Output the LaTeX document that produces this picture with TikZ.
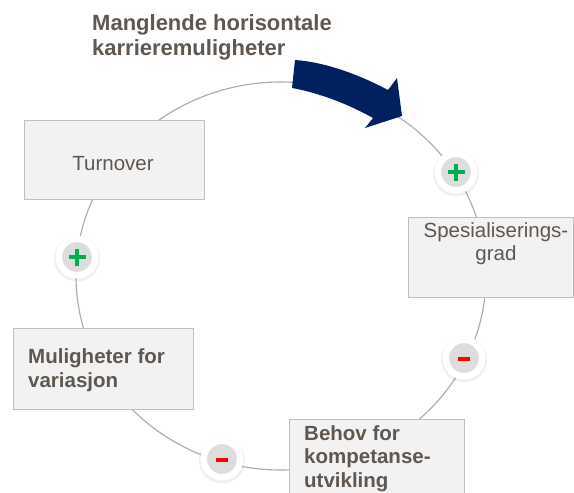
\documentclass[tikz,border=0pt]{standalone}
\usepackage{fontspec}
\setmainfont{Liberation Sans}
\definecolor{linegray}{RGB}{170,170,170}
\definecolor{boxborder}{RGB}{191,191,191}
\definecolor{boxfill}{RGB}{242,242,242}
\definecolor{txtcol}{RGB}{95,87,80}
\definecolor{navyarrow}{RGB}{0,32,96}
\definecolor{plusgreen}{RGB}{0,176,80}
\definecolor{minusred}{RGB}{255,0,0}
\definecolor{badgegray}{RGB}{221,221,221}
\begin{document}
\begin{tikzpicture}[x=1pt,y=-1pt,
  cycleline/.style={draw=linegray, line width=1.1pt},
  box/.style={draw=boxborder, fill=boxfill, line width=1.4pt, rectangle, inner sep=0pt, anchor=north west},
  txt/.style={text=txtcol, inner sep=0pt, font=\fontsize{20.5}{23.5}\selectfont},
  boldtxt/.style={txt, font=\fontsize{20.5}{23.5}\selectfont\bfseries},
  titletxt/.style={text=txtcol, inner sep=0pt, font=\fontsize{22}{25}\selectfont\bfseries},
  badge/.style={circle, fill=badgegray, draw=white, line width=6.5pt, minimum size=36.5pt, inner sep=0pt},
  badgeshadow/.style={fill=black, opacity=0.06},
  plussign/.style={fill=plusgreen},
  minussign/.style={fill=minusred}
]
\clip (0,0) rectangle (574,493);
\fill[white] (0,0) rectangle (574,493);

% the cycle
\draw[cycleline] (281,276) ellipse [x radius=205, y radius=194];

% boxes
\node[box, minimum width=180pt, minimum height=79pt] (turnover) at (24,120) {};
\node[box, minimum width=165pt, minimum height=80pt] (spes) at (408,217) {};
\node[box, minimum width=180pt, minimum height=81pt] (mulig) at (13,328) {};
\node[box, minimum width=175pt, minimum height=90pt] (behov) at (289,419) {};

% box texts
\node[txt, anchor=base] (turnovertxt) at (113,170) {Turnover};
\node[txt, anchor=north, align=center, font=\fontsize{20.5}{23}\selectfont] (spestxt) at (496,222.3) {Spesialiserings-\\grad};
\node[boldtxt, anchor=north west, align=left, font=\fontsize{20.5}{24}\selectfont\bfseries] (muligtxt) at (28,348.3) {Muligheter for\\variasjon};
\node[boldtxt, anchor=north west, align=left] (behovtxt) at (304,425.3) {Behov for\\kompetanse-\\utvikling};

% badge shadows
\foreach \x/\y in {456/172, 464/358, 222/459, 77/257}{
  \fill[badgeshadow] (\x,\y+1.5) circle[radius=23];
}
% badges
\node[badge] (bplusR) at (456,172) {};
\node[badge] (bminusR) at (464,358) {};
\node[badge] (bminusB) at (222,459) {};
\node[badge] (bplusL) at (77,257) {};

\foreach \b in {bplusR,bplusL}{
  \fill[plussign] ([xshift=-8.5pt,yshift=-2.4pt]\b.center) rectangle ([xshift=8.5pt,yshift=2.4pt]\b.center);
  \fill[plussign] ([xshift=-2.4pt,yshift=-8.5pt]\b.center) rectangle ([xshift=2.4pt,yshift=8.5pt]\b.center);
}
\foreach \b in {bminusR,bminusB}{
  \fill[minussign] ([xshift=-6pt,yshift=-3.3pt]\b.center) rectangle ([xshift=6pt,yshift=1.2pt]\b.center);
}

% title and arrow
\node[titletxt, anchor=north west, align=left] (title) at (92,14.3) {Manglende horisontale\\karrieremuligheter};
\fill[navyarrow] (295,60) .. controls (325,62) and (360,75) .. (388,90)
  -- (397,78) -- (402,116) -- (365,128) -- (373,118)
  .. controls (350,105) and (320,93) .. (292,88) -- cycle;
\end{tikzpicture}
\end{document}
